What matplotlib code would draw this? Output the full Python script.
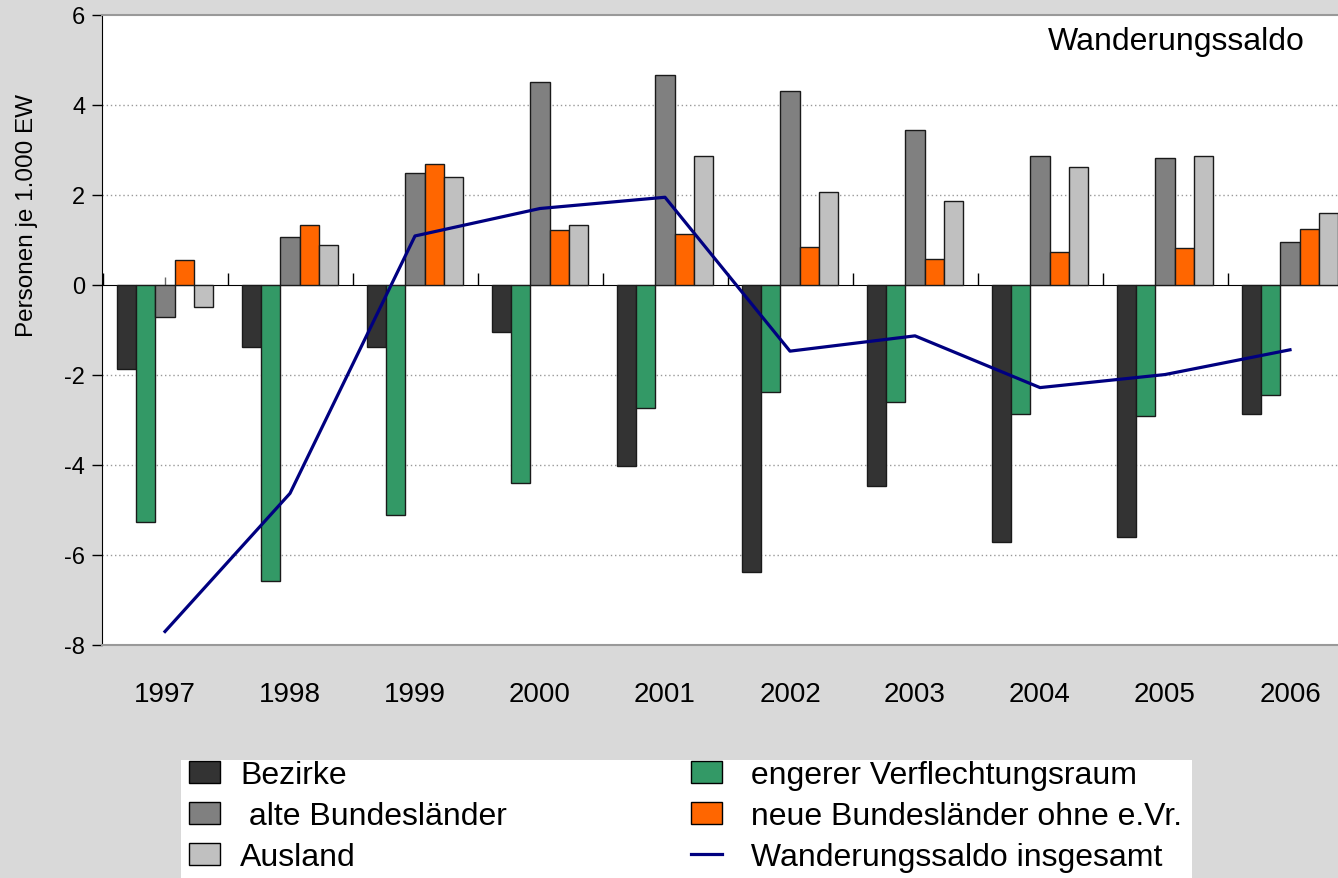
import numpy as np
import matplotlib
matplotlib.use("Agg")
import matplotlib.pyplot as plt
from matplotlib.patches import Patch, Rectangle
from matplotlib.lines import Line2D

plt.rcParams['font.family'] = ['Liberation Sans', 'DejaVu Sans']

years = ['1997', '1998', '1999', '2000', '2001', '2002', '2003', '2004', '2005', '2006']

bezirke = [-1.87, -1.38, -1.38, -1.04, -4.03, -6.37, -4.47, -5.72, -5.61, -2.87]
engerer = [-5.26, -6.58, -5.12, -4.39, -2.74, -2.38, -2.59, -2.86, -2.90, -2.44]
alte = [-0.70, 1.06, 2.48, 4.52, 4.67, 4.31, 3.44, 2.87, 2.82, 0.96]
neue = [0.56, 1.33, 2.70, 1.23, 1.14, 0.85, 0.58, 0.74, 0.82, 1.24]
ausland = [-0.49, 0.90, 2.39, 1.34, 2.87, 2.07, 1.87, 2.62, 2.86, 1.61]
insgesamt = [-7.70, -4.63, 1.09, 1.70, 1.95, -1.47, -1.13, -2.28, -1.99, -1.44]

# bar order inside each year group
series = [
    (bezirke, '#333333'),
    (engerer, '#339966'),
    (alte, '#808080'),
    (neue, '#FF6600'),
    (ausland, '#C0C0C0'),
]

bg = '#D9D9D9'
fig = plt.figure(figsize=(13.38, 8.79), dpi=100, facecolor=bg)
ax = fig.add_axes([102 / 1338, 1 - 646 / 879, 1 - 102 / 1338, 630 / 879])
ax.set_facecolor('white')

x = np.arange(len(years))
w = 0.155
for i, (vals, col) in enumerate(series):
    ax.bar(x + (i - 2) * w, vals, width=w, color=col, edgecolor='#1a1a1a',
           linewidth=1.0, zorder=3)

ax.plot(x, insgesamt, color='#000080', linewidth=2.3, zorder=4)

ax.set_xlim(-0.504, 9.384)
ax.set_ylim(-8, 6)
ax.set_yticks(np.arange(-8, 7, 2))
ax.set_yticklabels([str(v) for v in range(-8, 7, 2)])
for v in [-6, -4, -2, 2, 4]:
    ax.axhline(v, color='#999999', linestyle=(0, (1, 2)), linewidth=1.0, zorder=1)

ax.set_xticks(x)
ax.set_xticklabels(years)
ax.tick_params(axis='x', length=0, pad=26, labelsize=20)
ax.tick_params(axis='y', length=7, width=1, labelsize=17, pad=5)

for s in ['top', 'bottom']:
    ax.spines[s].set_color('#999999')
    ax.spines[s].set_linewidth(1.5)
ax.spines['right'].set_visible(False)
ax.spines['left'].set_color('black')

# zero line with its ticks
sec = ax.secondary_xaxis(8 / 14)
sec.set_xticks(x - 0.5)
sec.set_xticks(x, minor=True)
sec.set_xticklabels([])
sec.tick_params(which='major', length=9, width=1, color='black', direction='out')
sec.tick_params(which='minor', length=6, width=1, color='#666666', direction='out')
sec.spines['bottom'].set_linewidth(1.5)
sec.spines['bottom'].set_color('black')

ax.set_ylabel('Personen je 1.000 EW', fontsize=17.5)
ax.yaxis.set_label_coords(-0.052, 0.684)

ax.text(0.973, 0.959, 'Wanderungssaldo', transform=ax.transAxes,
        ha='right', va='center', fontsize=23)

# white legend box
fig.patches.append(Rectangle((181 / 1338, 0), (1192 - 181) / 1338, (879 - 761) / 879,
                             transform=fig.transFigure, facecolor='white',
                             edgecolor='none', zorder=0))

handles = [
    Patch(facecolor='#333333', edgecolor='black', label='Bezirke'),
    Patch(facecolor='#808080', edgecolor='black', label=' alte Bundesländer'),
    Patch(facecolor='#C0C0C0', edgecolor='black', label='Ausland'),
    Patch(facecolor='#339966', edgecolor='black', label=' engerer Verflechtungsraum'),
    Patch(facecolor='#FF6600', edgecolor='black', label=' neue Bundesländer ohne e.Vr.'),
    Line2D([], [], color='#000080', linewidth=2.3, label=' Wanderungssaldo insgesamt'),
]
fig.legend(handles=handles, ncol=2, loc='upper left',
           bbox_to_anchor=(189 / 1338, 1 - 761 / 879),
           fontsize=23, frameon=False,
           handlelength=0.97, handleheight=0.69, handletextpad=0.63,
           labelspacing=0.35, columnspacing=5.75, borderpad=0, borderaxespad=0)

fig.savefig('out.png', dpi=100, facecolor=bg)
